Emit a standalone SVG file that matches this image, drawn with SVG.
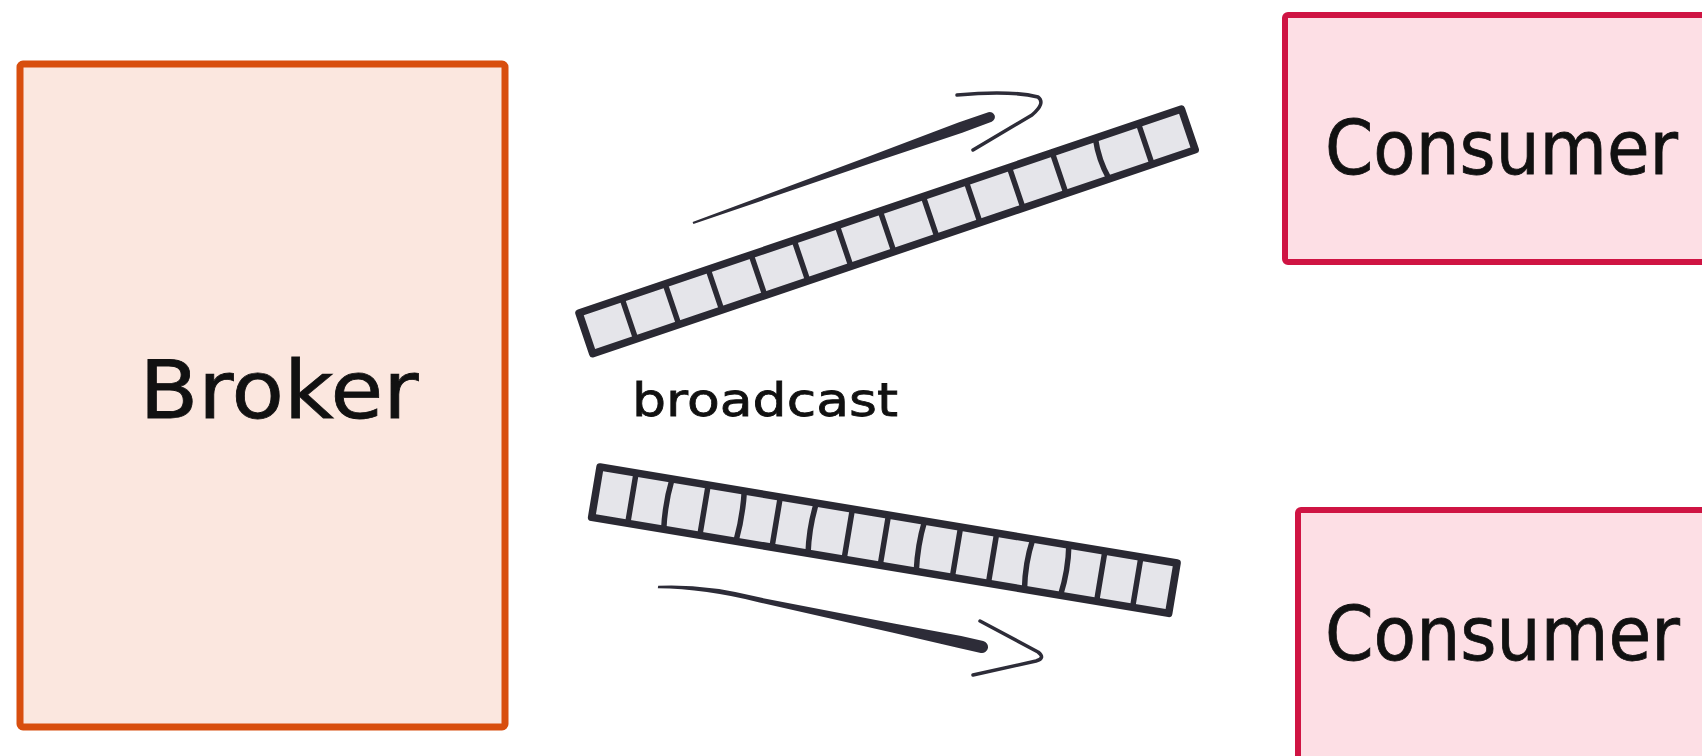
<svg xmlns="http://www.w3.org/2000/svg" width="1702" height="756" viewBox="0 0 1702 756">
<style>
.lbl{font-family:"DejaVu Sans","Liberation Sans",sans-serif;fill:#111;stroke:#111;stroke-width:0.8;}
.tape{fill:#e5e5ea;stroke:#2a2933;stroke-width:7.5;stroke-linejoin:round;}
.div{stroke:#2a2933;stroke-width:5.5;stroke-linecap:round;fill:none;}
.shaft{fill:#2d2c38;}
.head{fill:none;stroke:#2d2c38;stroke-width:3.5;stroke-linecap:round;stroke-linejoin:round;}
</style>
<rect width="1702" height="756" fill="#ffffff"/>
<g id="broker">
<rect x="20" y="64" width="485" height="663" rx="3" fill="#fbe7df" stroke="#d84e0e" stroke-width="7"/>
<text class="lbl" x="279" y="418" font-size="80" text-anchor="middle" textLength="279" lengthAdjust="spacingAndGlyphs">Broker</text>
</g>
<g id="consumer1">
<rect x="1285" y="15" width="440" height="247" rx="3" fill="#fddfe5" stroke="#cf1443" stroke-width="6"/>
<text class="lbl" x="1325" y="174" font-size="74" textLength="353" lengthAdjust="spacingAndGlyphs">Consumer</text>
</g>
<g id="consumer2">
<rect x="1298" y="510" width="440" height="260" rx="3" fill="#fddfe5" stroke="#cf1443" stroke-width="6"/>
<text class="lbl" x="1325" y="660" font-size="74" textLength="355" lengthAdjust="spacingAndGlyphs">Consumer</text>
</g>
<g id="label-broadcast">
<text class="lbl" x="632" y="416" font-size="46" textLength="266" lengthAdjust="spacingAndGlyphs">broadcast</text>
</g>
<g id="connectors">
<g id="tape-top" transform="translate(579,313) rotate(-18.7)">
<rect class="tape" x="0" y="0" width="636" height="43"/>
<path class="div" d="M45.4,0V43M90.9,0V43M136.3,0V43M181.7,0V43M227.1,0V43M272.6,0V43M318,0V43M363.4,0V43M408.9,0V43M454.3,0V43M499.7,0V43M545.1,0Q541,22 545.1,43M590.6,0V43"/>
</g>
<g id="tape-bottom" transform="translate(600,467) rotate(9.45)">
<rect class="tape" x="0" y="0" width="585" height="51"/>
<path class="div" d="M36.6,0V51M73.1,0Q70,25 73.1,51M109.7,0V51M146.3,0Q149,25 146.3,51M182.8,0V51M219.4,0Q216,25 219.4,51M255.9,0V51M292.5,0V51M329.1,0Q326,25 329.1,51M365.6,0V51M402.2,0V51M438.8,0Q435,25 438.8,51M475.3,0Q479,25 475.3,51M511.9,0V51M548.4,0V51"/>
</g>
<g id="arrow-top">
<path class="shaft" d="M692.6,221.9 L870,156.1 L958.4,122.4 L988.3,112.3 A5,5 0 0 1 991.7,121.7 L962.2,132.8 L872.4,162.7 L693.4,224.1 Z"/>
<path class="head" d="M957,95 Q1010,90 1038,97 Q1046,103 1032,115 L973,150"/>
</g>
<g id="arrow-bottom">
<path class="shaft" d="M658.2,585.8 Q705,583.5 760.5,597.6 L893.9,623.6 L961.2,636.1 L983.2,641.1 A6,6 0 0 1 980.8,652.9 L958.8,647.9 L892.1,632.4 L759.5,602.4 Q705,588.5 657.8,588.2 Z"/>
<path class="head" d="M980,621 L1038,652 Q1046,658 1036,661 L973,675"/>
</g>
</g>
</svg>
